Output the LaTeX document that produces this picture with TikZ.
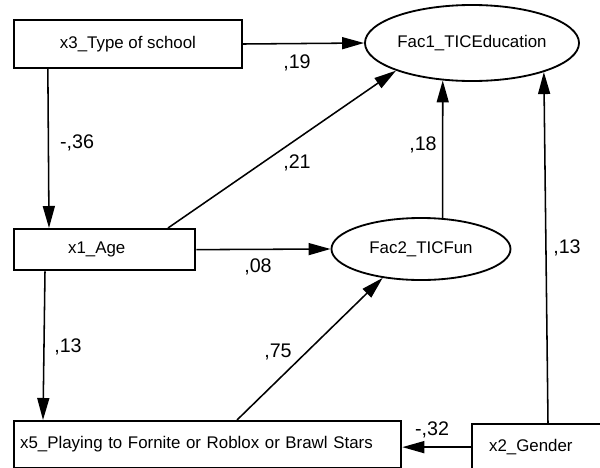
\documentclass[tikz,border=0pt]{standalone}
\usepackage{fontspec}
\setmainfont{Liberation Sans}
\usetikzlibrary{arrows.meta,shapes.geometric,calc}

\begin{document}
\begin{tikzpicture}[x=.025cm,y=-.025cm,font=\fontsize{12}{14}\selectfont,
    varbox/.style={draw,line width=1.6pt,rectangle,inner sep=0pt},
    latent/.style={draw,line width=1.3pt,ellipse,inner sep=0pt},
    effect/.style={line width=1.1pt,-{Triangle[length=.55cm,width=.3cm]}},
    coef/.style={inner sep=1pt,font=\fontsize{14}{16}\selectfont}]
    \useasboundingbox (0,0) rectangle (600,468);
    \clip (0,0) rectangle (600,468);
    % observed variables
    \node[varbox,minimum width=5.7cm,minimum height=1.2cm] (x3) at (128,44) {x3\_Type of school};
    \node[varbox,anchor=north west,minimum height=1.025cm,inner xsep=1.35cm,text width=1.825cm,align=left] (x1) at (13,228) {x1\_Age};
    \node[varbox,anchor=north west,minimum height=1.175cm,inner xsep=.15cm,text width=9.375cm,align=left] (x5) at (13,420) {x5\_Playing to Fornite or Roblox or Brawl Stars};
    \node[varbox,anchor=north west,minimum height=1.15cm,inner xsep=.425cm,text width=4cm,align=left] (x2) at (471,423) {x2\_Gender};
    % factors
    \node[latent,minimum width=5.35cm,minimum height=1.9cm] (Fac1) at (472,43) {Fac1\_TICEducation};
    \node[latent,minimum width=4.475cm,minimum height=1.55cm] (Fac2) at (421,249) {Fac2\_TICFun};
    % paths
    \draw[effect] (x3.east) -- (Fac1.west);
    \draw[effect] ($(x3.south west)+(35,0)$) -- ($(x1.north west)+(36,0)$);
    \draw[effect] ($(x1.north west)+(155,0)$) -- (Fac1.200);
    \draw[effect] (x1.east) -- (Fac2.west);
    \draw[effect] ($(x1.south west)+(32,0)$) -- ($(x5.north west)+(30,0)$);
    \draw[effect] ($(x5.north west)+(224,0)$) -- (Fac2.217);
    \draw[effect] (Fac2.55) -- (Fac1.232);
    \draw[effect] ($(x2.north west)+(77,0)$) -- (Fac1.-22);
    \draw[effect] (x2.west) -- (x2.west -| x5.east);
    % coefficients
    \node[coef] (c19) at (297,63) {,19};
    \node[coef] (c36) at (77,143) {-,36};
    \node[coef] (c21) at (297,163) {,21};
    \node[coef] (c18) at (423,145) {,18};
    \node[coef] (c08) at (258,267) {,08};
    \node[coef] (c13b) at (567,248) {,13};
    \node[coef] (c13a) at (68,347) {,13};
    \node[coef] (c75) at (278,352) {,75};
    \node[coef] (c32) at (432,430) {-,32};
\end{tikzpicture}
\end{document}
